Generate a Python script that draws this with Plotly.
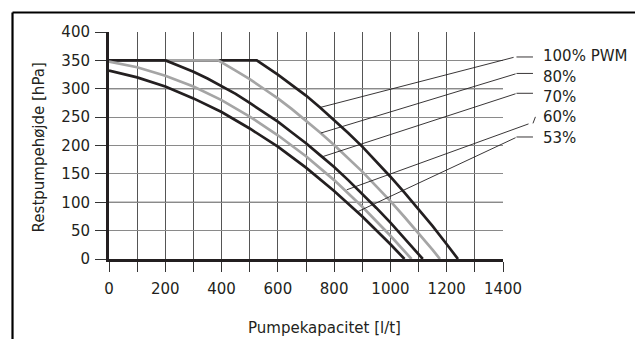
import plotly.graph_objects as go

# ---- data ----
x_100 = [0, 525, 600, 650, 700, 750, 800, 850, 900, 950, 1000, 1050, 1100, 1150, 1200, 1240]
y_100 = [350, 350, 325, 307, 288, 267, 245, 222, 198, 172, 145, 117, 88, 58, 26, 0]

x_80 = [0, 388, 450, 500, 550, 600, 650, 700, 750, 800, 850, 900, 950, 1000, 1050, 1100, 1150, 1176]
y_80 = [350, 350, 332, 317, 300, 283, 264, 244, 223, 201, 178, 154, 128, 102, 74, 46, 16, 0]

x_70 = [0, 201, 250, 300, 350, 400, 450, 500, 550, 600, 650, 700, 750, 800, 850, 900, 950, 1000, 1050, 1115]
y_70 = [350, 350, 340, 330, 318, 305, 291, 275, 259, 242, 223, 204, 183, 162, 139, 115, 90, 64, 37, 0]

x_60 = [0, 100, 200, 300, 400, 500, 600, 700, 800, 900, 1000, 1050, 1075]
y_60 = [348, 338, 323, 304, 280, 251, 218, 181, 139, 92, 41, 14, 0]

x_53 = [0, 100, 200, 300, 400, 500, 600, 700, 800, 900, 1000, 1050]
y_53 = [332, 320, 304, 283, 259, 230, 198, 161, 120, 75, 26, 0]

series_names = ["100% PWM", "80%", "70%", "60%", "53%"]
# leader targets on curves (data coords)
leader_x = [750, 753, 757, 845, 882]
leader_y = [267, 222, 180, 122, 83]
# leader kink (data coords) and label line heights
kink_x = [1443, 1450, 1450, 1496, 1450]
kink_y = [356, 327, 292, 239, 215]
label_y = [358, 321, 285, 250, 214]

x_ticks = [0, 200, 400, 600, 800, 1000, 1200, 1400]
y_ticks = [0, 50, 100, 150, 200, 250, 300, 350, 400]

BLACK = "#231f20"
GRAY = "#a5a5a5"
FONT = "DejaVu Sans"

fig = go.Figure()
curves = [(x_100, y_100, BLACK), (x_80, y_80, GRAY), (x_70, y_70, BLACK),
          (x_60, y_60, GRAY), (x_53, y_53, BLACK)]
for (xs, ys, col), name in zip(curves, series_names):
    fig.add_trace(go.Scatter(x=xs, y=ys, mode="lines", name=name,
                             line=dict(color=col, width=2.7),
                             showlegend=False, hoverinfo="skip"))

annotations = []
for i, name in enumerate(series_names):
    # diagonal leader
    annotations.append(dict(x=leader_x[i], y=leader_y[i], xref="x", yref="y",
                            ax=kink_x[i], ay=kink_y[i], axref="x", ayref="y",
                            text="", showarrow=True, arrowhead=0, arrowwidth=0.9,
                            arrowcolor=BLACK))
    # short segment to label
    if i == 3:
        annotations.append(dict(x=1.0761, y=kink_y[i], xref="paper", yref="y",
                                ax=3, ay=-8, axref="pixel", ayref="pixel",
                                text="", showarrow=True, arrowhead=0, arrowwidth=0.9,
                                arrowcolor=BLACK))
    else:
        annotations.append(dict(x=1.0761, y=kink_y[i], xref="paper", yref="y",
                                ax=-18, ay=0, axref="pixel", ayref="pixel",
                                text="", showarrow=True, arrowhead=0, arrowwidth=0.9,
                                arrowcolor=BLACK))
    annotations.append(dict(x=1.0964, y=label_y[i], xref="paper", yref="y",
                            text=name, showarrow=False, xanchor="left", yanchor="middle",
                            font=dict(family=FONT, size=15, color=BLACK)))

annotations.append(dict(x=0.548, y=-0.304, xref="paper", yref="paper",
                        text="Pumpekapacitet [l/t]", showarrow=False,
                        xanchor="center", yanchor="middle",
                        font=dict(family=FONT, size=15, color=BLACK)))
annotations.append(dict(x=-0.178, y=0.491, xref="paper", yref="paper",
                        text="Restpumpehøjde [hPa]", showarrow=False, textangle=-90,
                        xanchor="center", yanchor="middle",
                        font=dict(family=FONT, size=15, color=BLACK)))

shapes = []
for yv in [100, 200, 300]:
    shapes.append(dict(type="line", xref="paper", yref="y", x0=0, x1=1, y0=yv, y1=yv,
                       line=dict(color="#333333", width=1.2), layer="between"))
# outer frame (left and top)
shapes.append(dict(type="line", xref="paper", yref="paper", x0=-0.2449, x1=-0.2449,
                   y0=1.0859, y1=-0.40, line=dict(color="#000000", width=2.2)))
shapes.append(dict(type="line", xref="paper", yref="paper", x0=-0.2449, x1=1.40,
                   y0=1.0859, y1=1.0859, line=dict(color="#000000", width=2.2)))

# page body adds an 8px margin, so the figure is sized to fill the rest of the window
fig.update_layout(
    width=635, height=331,
    margin=dict(l=101, r=140, t=24, b=80),
    paper_bgcolor="white", plot_bgcolor="white",
    font=dict(family=FONT, size=15, color=BLACK),
    annotations=annotations, shapes=shapes,
    showlegend=False,
)
fig.update_xaxes(range=[0, 1400], tickvals=x_ticks, ticks="outside", ticklen=10,
                 tickcolor="#333", tickwidth=1, showgrid=True, gridcolor="#555555",
                 gridwidth=1, showline=True, linecolor=BLACK, linewidth=3,
                 zeroline=False, ticklabelstandoff=4,
                 tickfont=dict(family=FONT, size=15, color=BLACK),
                 minor=dict(dtick=100, tick0=0, showgrid=True, gridcolor="#555555",
                            ticks="outside", ticklen=10, tickcolor="#333", gridwidth=1))
fig.update_yaxes(range=[0, 400], tickvals=y_ticks, ticks="outside", ticklen=11,
                 tickcolor="#333", tickwidth=1, showgrid=True, gridcolor="#8a8a8a",
                 gridwidth=1, showline=True, linecolor=BLACK, linewidth=3,
                 zeroline=False, ticklabelstandoff=2,
                 tickfont=dict(family=FONT, size=15, color=BLACK))

fig.write_html("out.html")
